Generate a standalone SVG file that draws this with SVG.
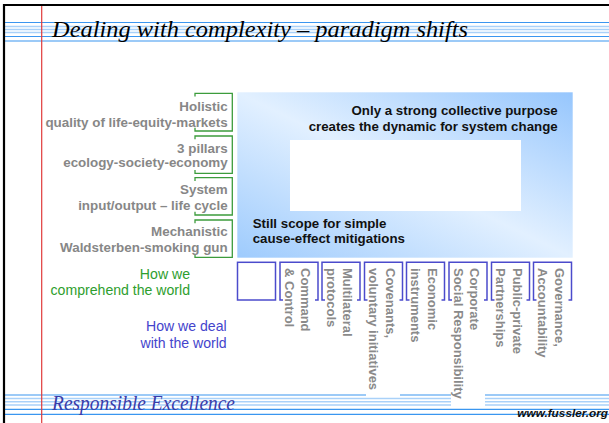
<svg xmlns="http://www.w3.org/2000/svg" width="609" height="423" viewBox="0 0 609 423">
<defs>
<linearGradient id="bg" x1="0" y1="1" x2="1" y2="0">
<stop offset="0" stop-color="#9ecbfd"/>
<stop offset="0.5" stop-color="#e2f0ff"/>
<stop offset="1" stop-color="#96c6fd"/>
</linearGradient>
<style>
.rb{stroke:#3a96f0;stroke-width:1.2}
.rl{stroke:#a9d1f9;stroke-width:1.4}
.gl{font-family:"Liberation Sans",Arial,sans-serif;font-weight:bold;font-size:13.4px;fill:#878787;text-anchor:end}
.bk{font-family:"Liberation Sans",Arial,sans-serif;font-weight:bold;font-size:13.3px;fill:#111}
.rot{font-family:"Liberation Sans",Arial,sans-serif;font-weight:bold;font-size:13px;fill:#8a8a8a}
.gb{fill:none;stroke:#3c9c3c;stroke-width:1.3}
.bb{fill:none;stroke:#4b4bcc;stroke-width:1.5}
</style>
</defs>
<rect width="609" height="423" fill="#fff"/>
<g id="ruling">
<line class="rb" x1="5" y1="22.5" x2="609" y2="22.5"/>
<line class="rl" x1="5" y1="26.5" x2="609" y2="26.5"/>
<line class="rl" x1="5" y1="29.5" x2="609" y2="29.5"/>
<line class="rl" x1="5" y1="32.5" x2="609" y2="32.5"/>
<line class="rb" x1="5" y1="36.5" x2="609" y2="36.5"/>
<line class="rb" x1="5" y1="41" x2="609" y2="41"/>
<line class="rb" x1="5" y1="395" x2="609" y2="395"/>
<line class="rl" x1="5" y1="398.5" x2="609" y2="398.5"/>
<line class="rl" x1="5" y1="401.7" x2="609" y2="401.7"/>
<line class="rl" x1="5" y1="405" x2="609" y2="405"/>
<line class="rb" x1="5" y1="409.3" x2="609" y2="409.3"/>
<line class="rb" x1="5" y1="414.3" x2="609" y2="414.3"/>
<rect x="366" y="380" width="34" height="16.5" fill="#fff"/>
<rect x="451" y="380" width="34" height="27" fill="#fff"/>
<line x1="41.7" y1="4" x2="41.7" y2="423" stroke="#e03a3a" stroke-width="1.2"/>
<line x1="3" y1="5" x2="609" y2="5" stroke="#000" stroke-width="2"/>
<line x1="4" y1="4" x2="4" y2="423" stroke="#000" stroke-width="2.2"/>
</g>
<g id="title">
<text x="52" y="37" font-family="Liberation Serif,serif" font-style="italic" font-size="24" textLength="416" lengthAdjust="spacingAndGlyphs" fill="#000">Dealing with complexity – paradigm shifts</text>
</g>
<g id="footer">
<text x="52" y="410" font-family="Liberation Serif,serif" font-style="italic" font-size="20" textLength="183" lengthAdjust="spacingAndGlyphs" fill="#3b3ba8">Responsible Excellence</text>
<text x="608" y="417" font-family="Liberation Sans,Arial,sans-serif" font-style="italic" font-weight="bold" font-size="11.8" text-anchor="end" fill="#111">www.fussler.org</text>
</g>
<g id="panel">
<rect x="237.3" y="92.3" width="335.4" height="165.4" fill="url(#bg)"/>
<rect x="290" y="140" width="231" height="71" fill="#fff"/>
<text class="bk" x="557.7" y="115" text-anchor="end">Only a strong collective purpose</text>
<text class="bk" x="557.7" y="131" text-anchor="end">creates the dynamic for system change</text>
<text class="bk" x="252.7" y="227.5">Still scope for simple</text>
<text class="bk" x="252.7" y="243.3">cause-effect mitigations</text>
</g>
<g id="comprehend">
<g id="holistic"><path class="gb" d="M195,96.5 V93.3 H232.3 V131 H195 V127.8"/>
<text class="gl" x="227.7" y="111">Holistic</text><text class="gl" x="227.7" y="127.3">quality of life-equity-markets</text></g>
<g id="pillars"><path class="gb" d="M195,139.2 V136 H232.3 V173.3 H195 V170.1"/>
<text class="gl" x="227.7" y="153.3">3 pillars</text><text class="gl" x="227.7" y="167.3">ecology-society-economy</text></g>
<g id="system"><path class="gb" d="M195,180.9 V177.7 H232.3 V215 H195 V211.8"/>
<text class="gl" x="227.7" y="194">System</text><text class="gl" x="227.7" y="210">input/output – life cycle</text></g>
<g id="mechanistic"><path class="gb" d="M195,223.2 V220 H232.3 V257.3 H195 V254.1"/>
<text class="gl" x="227.7" y="236">Mechanistic</text><text class="gl" x="227.7" y="252">Waldsterben-smoking gun</text></g>
<g id="label-comprehend" font-family="Liberation Sans,Arial,sans-serif" font-size="14.1" fill="#2e9e2e" text-anchor="end">
<text x="190" y="279">How we</text><text x="190" y="295">comprehend the world</text></g>
<g id="label-deal" font-family="Liberation Sans,Arial,sans-serif" font-size="14.1" fill="#4444cc" text-anchor="end">
<text x="226.7" y="331">How we deal</text><text x="226.7" y="347.7">with the world</text></g>
</g>
<g id="deal">
<g id="box-empty"><rect class="bb" x="237.5" y="262.3" width="38" height="37.7"/></g>
<g id="box-command"><path class="bb" d="M283,300 H280 V262.3 H318 V300 H315"/>
<text class="rot" transform="translate(301,268) rotate(90)">Command</text><text class="rot" transform="translate(284.5,268) rotate(90)">&amp; Control</text></g>
<g id="box-multilateral"><path class="bb" d="M325,300 H322 V262.3 H360 V300 H357"/>
<text class="rot" transform="translate(343,268) rotate(90)">Multilateral</text><text class="rot" transform="translate(326.5,268) rotate(90)">protocols</text></g>
<g id="box-covenants"><path class="bb" d="M367.5,300 H364.5 V262.3 H402.5 V300 H399.5"/>
<text class="rot" transform="translate(385.5,268) rotate(90)">Covenants,</text><text class="rot" transform="translate(369,268) rotate(90)">voluntary initiatives</text></g>
<g id="box-economic"><path class="bb" d="M409.5,300 H406.5 V262.3 H444.5 V300 H441.5"/>
<text class="rot" transform="translate(427.5,268) rotate(90)">Economic</text><text class="rot" transform="translate(411,268) rotate(90)">instruments</text></g>
<g id="box-csr"><path class="bb" d="M452,300 H449 V262.3 H487 V300 H484"/>
<text class="rot" transform="translate(470,268) rotate(90)">Corporate</text><text class="rot" transform="translate(453.5,268) rotate(90)">Social Responsibility</text></g>
<g id="box-ppp"><path class="bb" d="M494.5,300 H491.5 V262.3 H529.5 V300 H526.5"/>
<text class="rot" transform="translate(512.5,268) rotate(90)">Public-private</text><text class="rot" transform="translate(496,268) rotate(90)">Partnerships</text></g>
<g id="box-governance"><path class="bb" d="M536.5,300 H533.5 V262.3 H571.5 V300 H568.5"/>
<text class="rot" transform="translate(554.5,268) rotate(90)">Governance,</text><text class="rot" transform="translate(538,268) rotate(90)">Accountability</text></g>
</g>
<g id="connectors"/>
</svg>
